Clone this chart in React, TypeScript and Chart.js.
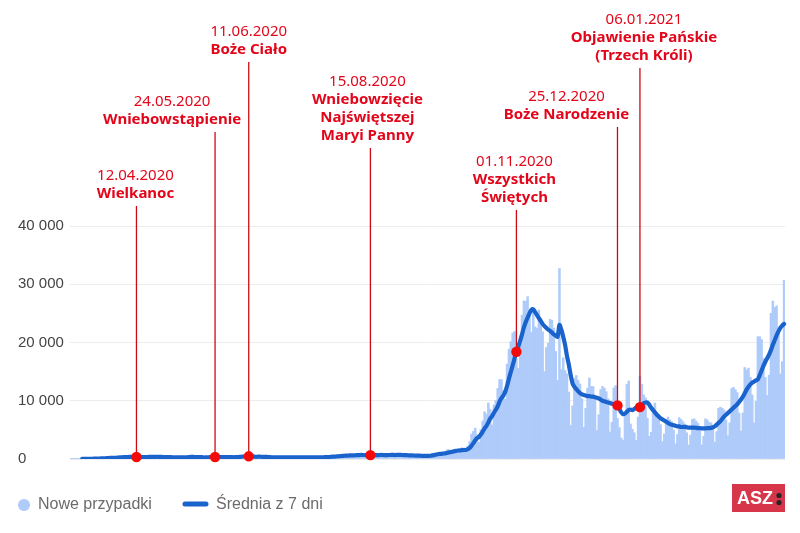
import React, { useEffect, useRef } from "react";
import { Chart, registerables } from "chart.js";

Chart.register(...registerables);

// ---- data: daily new cases (Nowe przypadki) ----
const casesMar2020 = [5, 6, 5, 9, 20, 17, 36, 14, 27, 73, 49, 67, 70, 111, 98, 115, 152, 150, 170, 168, 249, 224, 193, 256];
const casesApr2020 = [243, 392, 437, 244, 475, 311, 256, 374, 370, 380, 318, 401, 268, 260, 336, 301, 545, 263, 545, 306, 263, 380, 381, 461, 276, 307, 232, 318, 263, 381];
const casesMay2020 = [276, 299, 230, 262, 307, 356, 307, 337, 280, 330, 595, 265, 299, 222, 183, 307, 303, 234, 387, 325, 443, 398, 286, 274, 217, 396, 395, 271, 308, 321, 380];
const casesJun2020 = [293, 292, 230, 361, 357, 576, 575, 599, 282, 395, 440, 314, 345, 407, 375, 506, 352, 314, 301, 301, 300, 246, 259, 311, 342, 293, 329, 260, 232, 282];
const casesJul2020 = [371, 300, 333, 316, 262, 193, 290, 299, 358, 299, 358, 272, 232, 299, 266, 280, 319, 309, 298, 258, 337, 449, 418, 358, 584, 443, 337, 512, 615, 657, 658];
const casesAug2020 = [680, 548, 456, 680, 640, 726, 809, 843, 618, 548, 598, 640, 614, 832, 832, 548, 548, 597, 624, 811, 903, 704, 565, 554, 655, 650, 887, 758, 824, 597, 550];
const casesSep2020 = [555, 584, 710, 714, 658, 588, 405, 476, 607, 601, 574, 513, 504, 376, 600, 757, 974, 1002, 1001, 1006, 740, 746, 1136, 1136, 1587, 1584, 1350, 1306, 1326, 1552];
const casesOct2020 = [1552, 1587, 1934, 1584, 1306, 2236, 3003, 4280, 4739, 5300, 4178, 2855, 5068, 6526, 8099, 7705, 9622, 8536, 5838, 9291, 10040, 12107, 13632, 13628, 11742, 10241, 16300, 18820, 20156, 21629, 21897];
const casesNov2020 = [17171, 15578, 19364, 24692, 27143, 27086, 27875, 24785, 21713, 25484, 22683, 22464, 25571, 24051, 21854, 15002, 19152, 19883, 23975, 23800, 22464, 18467, 13500, 32700, 15362, 17395, 15178, 14612, 11483, 5733];
const casesDec2020 = [9105, 13855, 14325, 13496, 12886, 10364, 5422, 8695, 12168, 13900, 12477, 12424, 10381, 4896, 7598, 11900, 12457, 12169, 11551, 10336, 4633, 6307, 12198, 12600, 7000, 5400, 3600, 3211, 7900, 12800, 13400];
const casesJan2021 = [6000, 5100, 4500, 3200, 7200, 14200, 12800, 11000, 10500, 7000, 3900, 4600, 8800, 9600, 8000, 7200, 5900, 3000, 4300, 6800, 7200, 6700, 6400, 5000, 2600, 4200, 7100, 6800, 6400, 6000, 4500];
const casesFeb2021 = [2400, 4100, 6800, 6900, 6500, 6100, 4900, 2400, 3900, 6900, 6700, 6300, 6200, 5200, 2900, 4700, 8700, 8900, 8700, 8400, 6700, 4000, 6200, 12100, 12300, 11900, 11400, 7900];
const casesMar2021 = [4800, 7900, 15700, 15300, 15600, 14000, 11000, 6200, 9900, 21000, 21000, 20500, 17300, 14000, 10900, 14400, 25000, 27100, 26000, 26300, 21800, 14600, 16700, 30700];

// ---- data: 7-day average (Średnia z 7 dni) ----
const avgMar2020 = [null, null, null, null, null, null, 14, 16, 18, 26, 32, 41, 48, 59, 71, 83, 94, 109, 124, 138, 162, 180, 190, 209];
const avgApr2020 = [215, 246, 285, 284, 320, 337, 337, 356, 352, 344, 355, 344, 338, 339, 333, 323, 347, 339, 360, 365, 366, 372, 383, 371, 373, 339, 329, 336, 320, 320];
const avgMay2020 = [293, 297, 286, 290, 288, 302, 291, 300, 297, 311, 359, 353, 345, 333, 311, 314, 311, 259, 276, 280, 312, 342, 339, 335, 333, 334, 344, 320, 307, 312, 327];
const avgJun2020 = [338, 323, 299, 312, 319, 356, 383, 427, 426, 449, 461, 454, 421, 397, 365, 397, 391, 373, 371, 365, 350, 331, 296, 290, 294, 293, 297, 291, 289, 293];
const avgJul2020 = [301, 295, 301, 299, 299, 294, 295, 285, 293, 288, 294, 296, 301, 302, 298, 287, 289, 282, 286, 290, 295, 321, 341, 347, 386, 407, 418, 443, 467, 501, 544];
const avgAug2020 = [557, 572, 589, 613, 617, 627, 648, 672, 682, 695, 683, 683, 667, 670, 669, 659, 659, 659, 656, 685, 695, 676, 679, 680, 688, 692, 703, 682, 699, 704, 703];
const avgSep2020 = [689, 679, 654, 648, 624, 623, 602, 591, 594, 578, 558, 538, 526, 522, 539, 561, 614, 675, 745, 817, 869, 889, 944, 967, 1050, 1134, 1183, 1264, 1346, 1406];
const avgOct2020 = [1465, 1465, 1515, 1549, 1549, 1679, 1886, 2276, 2726, 3207, 3577, 3799, 4203, 4707, 5252, 5676, 6293, 6916, 7342, 7945, 8447, 9020, 9867, 10439, 10897, 11526, 12527, 13781, 14931, 16074, 17255];
const avgNov2020 = [18400, 19300, 20300, 21400, 22600, 23500, 24300, 25000, 25600, 25700, 25200, 24700, 24200, 23700, 23200, 22800, 22500, 22200, 22000, 21700, 21400, 21200, 21000, 23000, 22200, 21000, 19600, 17700, 16200, 14400];
const avgDec2020 = [13000, 12400, 12000, 11600, 11300, 11100, 11000, 10900, 10800, 10800, 10700, 10700, 10600, 10500, 10400, 10200, 10000, 9900, 9800, 9700, 9600, 9500, 9400, 9300, 9200, 8600, 8000, 7700, 7800, 8100, 8400];
const avgJan2021 = [8500, 8400, 8600, 8800, 8900, 8900, 9200, 9600, 9700, 9700, 9300, 8800, 8400, 8000, 7600, 7300, 7000, 6800, 6600, 6400, 6200, 6000, 5900, 5800, 5700, 5600, 5600, 5500, 5500, 5500, 5450];
const avgFeb2021 = [5400, 5400, 5400, 5400, 5350, 5300, 5300, 5250, 5250, 5250, 5300, 5300, 5350, 5450, 5600, 5900, 6200, 6500, 6900, 7300, 7600, 7900, 8200, 8500, 8800, 9100, 9400, 9800];
const avgMar2021 = [10200, 10700, 11300, 11900, 12400, 12800, 13100, 13300, 13500, 13700, 14400, 15200, 16000, 16700, 17300, 17900, 18700, 19600, 20400, 21200, 21900, 22500, 22900, 23200];

const dailyCases = [
  ...casesMar2020, ...casesApr2020, ...casesMay2020, ...casesJun2020, ...casesJul2020, ...casesAug2020,
  ...casesSep2020, ...casesOct2020, ...casesNov2020, ...casesDec2020, ...casesJan2021, ...casesFeb2021, ...casesMar2021,
];
const avg7 = [
  ...avgMar2020, ...avgApr2020, ...avgMay2020, ...avgJun2020, ...avgJul2020, ...avgAug2020,
  ...avgSep2020, ...avgOct2020, ...avgNov2020, ...avgDec2020, ...avgJan2021, ...avgFeb2021, ...avgMar2021,
];

// categories: one per day from 08.03.2020
const FIRST_DAY_UTC = Date.UTC(2020, 2, 8);
const pad2 = (n: number) => (n < 10 ? "0" + n : "" + n);
const dayLabels: string[] = dailyCases.map((_, i) => {
  const d = new Date(FIRST_DAY_UTC + i * 86400000);
  return pad2(d.getUTCDate()) + "." + pad2(d.getUTCMonth() + 1) + "." + d.getUTCFullYear();
});

const yTicks = [0, 10000, 20000, 30000, 40000];

// holidays
const holidayDates = ["12.04.2020", "24.05.2020", "11.06.2020", "15.08.2020", "01.11.2020", "25.12.2020", "06.01.2021"];
const holidayNames = [
  ["Wielkanoc"],
  ["Wniebowstąpienie"],
  ["Boże Ciało"],
  ["Wniebowzięcie", "Najświętszej", "Maryi Panny"],
  ["Wszystkich", "Świętych"],
  ["Boże Narodzenie"],
  ["Objawienie Pańskie", "(Trzech Króli)"],
];
const legendLabels = ["Nowe przypadki", "Średnia z 7 dni"];

// ---- layout / style ----
const labelDx = [-1, -43, 0, -3, -2, -51, 4];
const labelTop = [176, 102, 32, 82, 162, 97, 20];
const LINE_H = 18;
const FONT = '"Noto Sans", "DejaVu Sans", sans-serif';
const AX_FONT = '"Liberation Sans", Arial, sans-serif';
const BAR_COLOR = "#aecbfa";
const LINE_COLOR = "#1b63cc";
const RED_TEXT = "#e3061b";
const RED_LINE = "#cc0a14";
const RED_DOT = "#f50a0a";

const fmt = (v: number) => String(v).replace(/\B(?=(\d{3})+(?!\d))/g, " ");

const overlayPlugin = {
  id: "overlay",
  afterDatasetsDraw(chart: any) {
    const ctx = chart.ctx as CanvasRenderingContext2D;
    const xs = chart.scales.x;
    const ys = chart.scales.y;
    holidayDates.forEach((d, k) => {
      const idx = dayLabels.indexOf(d);
      const x = xs.getPixelForValue(idx);
      const y = ys.getPixelForValue(avg7[idx] as number);
      const names = holidayNames[k];
      const top = labelTop[k];
      const lineTop = top + names.length * LINE_H + 12;
      ctx.save();
      ctx.strokeStyle = RED_LINE;
      ctx.lineWidth = 1.3;
      ctx.beginPath();
      ctx.moveTo(x, lineTop);
      ctx.lineTo(x, y);
      ctx.stroke();
      ctx.fillStyle = RED_DOT;
      ctx.beginPath();
      ctx.arc(x, y, 5.2, 0, Math.PI * 2);
      ctx.fill();
      ctx.fillStyle = RED_TEXT;
      ctx.textAlign = "center";
      ctx.textBaseline = "middle";
      const tx = x + labelDx[k];
      ctx.font = "15px " + FONT;
      ctx.fillText(d, tx, top);
      ctx.font = "bold 15px " + FONT;
      names.forEach((s, j) => ctx.fillText(s, tx, top + (j + 1) * LINE_H));
      ctx.restore();
    });
  },
  afterDraw(chart: any) {
    const ctx = chart.ctx as CanvasRenderingContext2D;
    ctx.save();
    // legend
    const ly = 504;
    ctx.fillStyle = BAR_COLOR;
    ctx.beginPath();
    ctx.arc(24, ly + 1, 6, 0, Math.PI * 2);
    ctx.fill();
    ctx.strokeStyle = LINE_COLOR;
    ctx.lineWidth = 5;
    ctx.lineCap = "round";
    ctx.beginPath();
    ctx.moveTo(185, ly);
    ctx.lineTo(206, ly);
    ctx.stroke();
    ctx.fillStyle = "#6b6b6b";
    ctx.font = "16px " + AX_FONT;
    ctx.textAlign = "left";
    ctx.textBaseline = "middle";
    ctx.fillText(legendLabels[0], 38, ly + 1);
    ctx.fillText(legendLabels[1], 216, ly + 1);
    // logo
    ctx.fillStyle = "#d7354a";
    ctx.fillRect(732, 484, 53, 28);
    ctx.fillStyle = "#ffffff";
    ctx.font = "bold 18px " + AX_FONT;
    ctx.textAlign = "left";
    ctx.fillText("ASZ", 737, 499);
    ctx.fillStyle = "#262626";
    ctx.beginPath();
    ctx.arc(779, 495.5, 2.6, 0, Math.PI * 2);
    ctx.arc(779, 502.5, 2.6, 0, Math.PI * 2);
    ctx.fill();
    ctx.restore();
  },
};

export default function App() {
  const ref = useRef<HTMLCanvasElement | null>(null);
  useEffect(() => {
    if (!ref.current) return;
    const chart = new Chart(ref.current, {
      type: "bar",
      data: {
        labels: dayLabels,
        datasets: [
          {
            type: "line",
            label: legendLabels[1],
            data: avg7 as any,
            borderColor: LINE_COLOR,
            borderWidth: 4.2,
            pointRadius: 0,
            tension: 0.3,
            borderJoinStyle: "round",
            borderCapStyle: "round",
            order: 0,
            spanGaps: false,
          } as any,
          {
            type: "bar",
            label: legendLabels[0],
            data: dailyCases,
            backgroundColor: BAR_COLOR,
            borderWidth: 0,
            barPercentage: 1,
            categoryPercentage: 1,
            order: 1,
          },
        ],
      },
      options: {
        responsive: false,
        animation: false,
        devicePixelRatio: 1,
        layout: { padding: { left: 18, right: 15, top: 226, bottom: 74 } },
        plugins: { legend: { display: false }, tooltip: { enabled: false } },
        scales: {
          x: { display: false, offset: true, grid: { display: false } },
          y: {
            min: 0,
            max: 40000,
            afterBuildTicks: (s: any) => {
              s.ticks = yTicks.map((v) => ({ value: v }));
            },
            afterFit: (s: any) => {
              s.width = 52;
            },
            grid: { color: "#ececec", lineWidth: 1, drawTicks: false },
            border: { display: false },
            ticks: {
              crossAlign: "far",
              padding: 0,
              color: "#444444",
              font: { family: AX_FONT, size: 15 },
              callback: (v: any) => fmt(Number(v)),
            },
          },
        },
      },
      plugins: [overlayPlugin],
    });
    return () => chart.destroy();
  }, []);
  return (
    <div style={{ position: "absolute", left: 0, top: 0, width: 800, height: 533, background: "#fff" }}>
      <canvas ref={ref} width={800} height={533} style={{ display: "block" }} />
    </div>
  );
}
